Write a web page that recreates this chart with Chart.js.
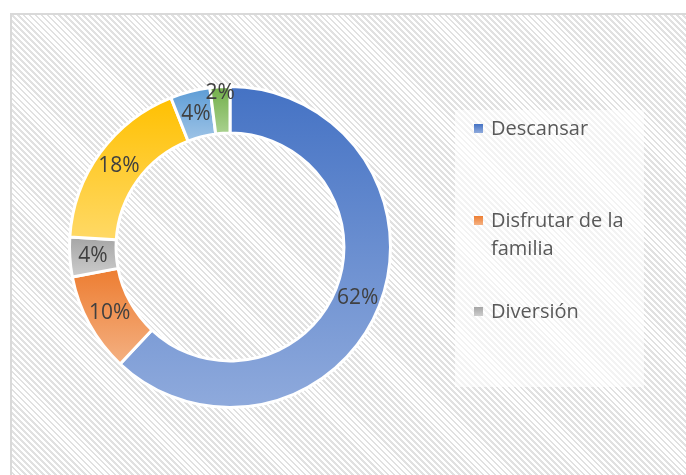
<!DOCTYPE html>
<html>
<head>
<meta charset="utf-8">
<script src="https://cdn.jsdelivr.net/npm/chart.js@4.4.1/dist/chart.umd.min.js"></script>
<style>
  html, body { margin: 0; padding: 0; background: #fff; }
  body { width: 686px; height: 475px; position: relative; overflow: hidden; font-family: "Open Sans", sans-serif; }
  .frame {
    position: absolute; left: 10px; top: 13px; width: 700px; height: 480px;
    border-left: 2px solid #d9d9d9; border-top: 2px solid #d9d9d9;
    background: repeating-linear-gradient(45deg, #fff 0 2.3px, #e1e1e1 2.3px 4.2px);
  }
  #wrap { position: absolute; left: 0; top: 0; width: 686px; height: 475px; }
  .legend {
    position: absolute; left: 455px; top: 110px; width: 189px; height: 277px;
    background: rgba(255,255,255,0.6); overflow: hidden;
  }
  .legend ul { list-style: none; margin: 0; padding: 4px 0 0 19px; }
  .legend li { display: flex; align-items: flex-start; font-size: 20px; line-height: 28px; color: #595959; }
  .legend li:nth-child(1) { margin-bottom: 64px; }
  .legend li:nth-child(2) { margin-bottom: 35px; }
  .legend .box { width: 9px; height: 9px; margin: 10px 8px 0 0; flex: none; }
  .legend .txt { width: 150px; }
</style>
</head>
<body>
<div class="frame"></div>
<div id="wrap"><canvas id="chart" width="686" height="475"></canvas></div>
<div class="legend"><ul id="legendList"></ul></div>
<script>
// only the first three labels can be read (the legend is cut off)
const labels = ['Descansar', 'Disfrutar de la familia', 'Diversión', 'Categoría 4', 'Categoría 5', 'Categoría 6'];
const values = [62, 10, 4, 18, 4, 2];
const darkColors = ['#4472C4', '#ED7D31', '#A5A5A5', '#FFC000', '#5B9BD5', '#70AD47'];
const lightColors = ['#8FAADC', '#F4B183', '#CDCDCD', '#FFD966', '#9DC3E6', '#A9D18E'];
const CUTOUT = 0.71;

// vertical gradient over each slice's own height, dark on top
function sliceFill(context) {
  const chart = context.chart;
  const i = context.dataIndex;
  const area = chart.chartArea;
  if (!area) return darkColors[i];
  const cx = (area.left + area.right) / 2;
  const cy = (area.top + area.bottom) / 2;
  const R = Math.min(area.width, area.height) / 2;
  const total = values.reduce((a, b) => a + b, 0);
  const before = values.slice(0, i).reduce((a, b) => a + b, 0);
  const a0 = -Math.PI / 2 + 2 * Math.PI * before / total;
  const a1 = a0 + 2 * Math.PI * values[i] / total;
  let minY = Infinity, maxY = -Infinity;
  for (let k = 0; k <= 60; k++) {
    const a = a0 + (a1 - a0) * k / 60;
    [R, R * CUTOUT].forEach(rad => {
      const y = cy + rad * Math.sin(a);
      minY = Math.min(minY, y);
      maxY = Math.max(maxY, y);
    });
  }
  const g = chart.ctx.createLinearGradient(0, minY, 0, maxY);
  g.addColorStop(0, darkColors[i]);
  g.addColorStop(1, lightColors[i]);
  return g;
}

const pctLabels = {
  id: 'pctLabels',
  afterDatasetsDraw(chart) {
    const ctx = chart.ctx;
    const meta = chart.getDatasetMeta(0);
    ctx.save();
    ctx.font = '21px "Open Sans"';
    ctx.fillStyle = '#404040';
    ctx.textAlign = 'center';
    ctx.textBaseline = 'middle';
    meta.data.forEach((arc, i) => {
      const p = arc.getProps(['x', 'y', 'startAngle', 'endAngle', 'innerRadius', 'outerRadius'], true);
      const mid = (p.startAngle + p.endAngle) / 2;
      const span = p.endAngle - p.startAngle;
      const rad = span < 0.2 ? p.outerRadius - 6 : (p.innerRadius + p.outerRadius) / 2;
      ctx.fillText(values[i] + '%', p.x + Math.cos(mid) * rad, p.y + Math.sin(mid) * rad);
    });
    ctx.restore();
  }
};

new Chart(document.getElementById('chart'), {
  type: 'doughnut',
  data: {
    labels,
    datasets: [{
      data: values,
      backgroundColor: sliceFill,
      borderColor: '#ffffff',
      borderWidth: 3,
    }],
  },
  options: {
    responsive: false,
    animation: false,
    cutout: (CUTOUT * 100) + '%',
    layout: { padding: { left: 68, right: 294, top: 85, bottom: 66 } },
    plugins: {
      legend: { display: false },
      tooltip: { enabled: false },
    },
  },
  plugins: [pctLabels],
});

// legend box is clipped after the third entry
document.getElementById('legendList').innerHTML = labels.slice(0, 3).map((l, i) => `
  <li><span class="box" style="background:linear-gradient(${darkColors[i]}, ${lightColors[i]})"></span><span class="txt">${l}</span></li>
`).join('');
</script>
</body>
</html>
